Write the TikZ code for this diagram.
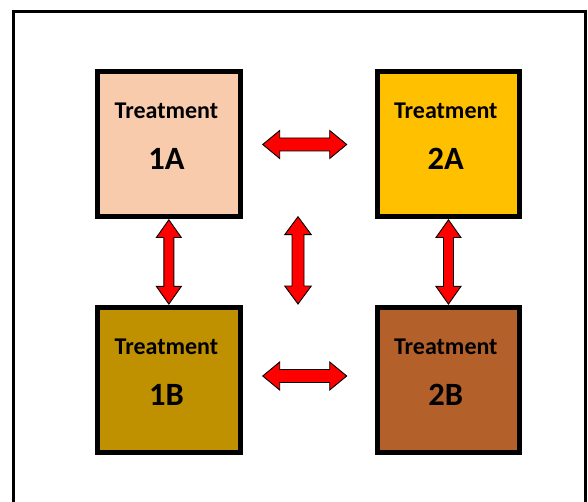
\documentclass[tikz,border=0pt]{standalone}
\usepackage{fontspec}
\setmainfont{Carlito}
\usetikzlibrary{calc}
\definecolor{c1a}{HTML}{F8CBAD}
\definecolor{c2a}{HTML}{FFC000}
\definecolor{c1b}{HTML}{BF9000}
\definecolor{c2b}{HTML}{B4602A}
\newcommand\blockarrow[5]{%
  \draw[barrow] (#1) -- ($(#1)!#3!(#2)!#4!90:(#2)$) -- ($(#1)!#3!(#2)!#5!90:(#2)$)
    -- ($(#2)!#3!(#1)!#5!-90:(#1)$) -- ($(#2)!#3!(#1)!#4!-90:(#1)$) -- (#2)
    -- ($(#2)!#3!(#1)!#4!90:(#1)$) -- ($(#2)!#3!(#1)!#5!90:(#1)$)
    -- ($(#1)!#3!(#2)!#5!-90:(#2)$) -- ($(#1)!#3!(#2)!#4!-90:(#2)$) -- cycle;}
\begin{document}
\begin{tikzpicture}[x=1pt,y=-1pt,
  tbox/.style={draw=black,line width=5pt,minimum width=142.3pt,minimum height=145pt,inner sep=0pt,anchor=north west},
  ttxt/.style={font=\bfseries\fontsize{24}{28}\selectfont,anchor=base,inner sep=0pt},
  tid/.style={font=\bfseries\fontsize{32.5}{36}\selectfont,anchor=base,inner sep=0pt},
  barrow/.style={draw=black,line width=0.9pt,fill=red,line join=miter}]
\clip (0,0) rectangle (588,502);
\fill[white] (0,0) rectangle (588,502);
\draw[line width=3pt] (13.5,11.5) rectangle (585.5,530);
% boxes
\node[tbox,fill=c1a] (b1a) at (95.2,69.2) {};
\node[tbox,fill=c2a] (b2a) at (374.8,69.2) {};
\node[tbox,fill=c1b] (b1b) at (95.2,304.5) {};
\node[tbox,fill=c2b] (b2b) at (374.8,304.5) {};
% texts
\node[ttxt] (t1a) at (166.4,119) {Treatment};
\node[tid] (i1a) at (166.4,170) {1A};
\node[ttxt] (t2a) at (445.8,119) {Treatment};
\node[tid] (i2a) at (445.8,170) {2A};
\node[ttxt] (t1b) at (166.4,354.3) {Treatment};
\node[tid] (i1b) at (166.4,405.3) {1B};
\node[ttxt] (t2b) at (445.8,354.3) {Treatment};
\node[tid] (i2b) at (445.8,405.3) {2B};
% arrow end points
\coordinate (ha1) at (262.7,144.5);
\coordinate (ha2) at (346.7,144.5);
\coordinate (hb1) at (262.7,376);
\coordinate (hb2) at (346.7,376);
\coordinate (vc1) at (298,216.7);
\coordinate (vc2) at (298,304);
\coordinate (vl1) at ([yshift=-0.6pt]b1a.south);
\coordinate (vl2) at ([yshift=0.4pt]b1b.north);
\coordinate (vr1) at ([yshift=-0.6pt]b2a.south);
\coordinate (vr2) at ([yshift=0.4pt]b2b.north);
% arrows
\blockarrow{ha1}{ha2}{17pt}{14pt}{6.5pt}
\blockarrow{hb1}{hb2}{17pt}{14pt}{6.5pt}
\blockarrow{vc1}{vc2}{18pt}{13.3pt}{6pt}
\blockarrow{vl1}{vl2}{17.7pt}{12.5pt}{5pt}
\blockarrow{vr1}{vr2}{17.7pt}{12.5pt}{5pt}
\end{tikzpicture}
\end{document}
